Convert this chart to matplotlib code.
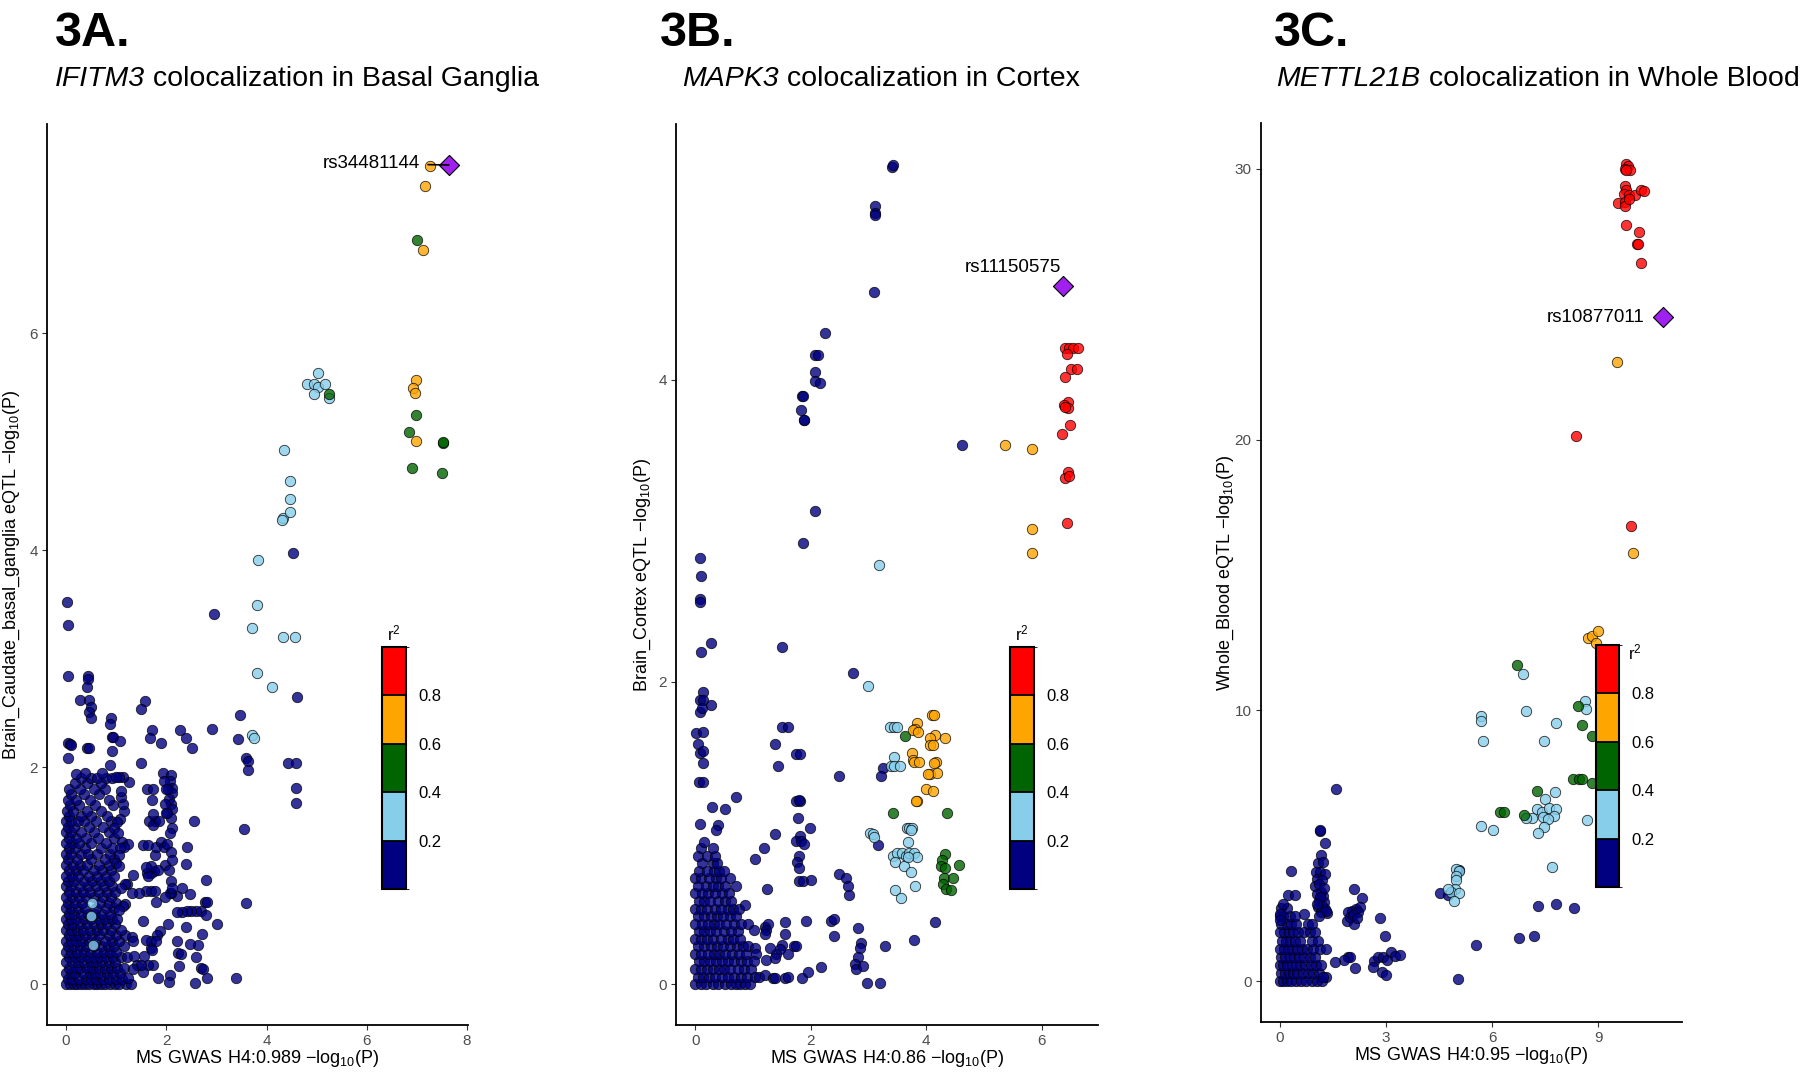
import matplotlib
matplotlib.use('Agg')
import matplotlib.pyplot as plt
import matplotlib as mpl
from matplotlib.colors import ListedColormap, BoundaryNorm

plt.rcParams['font.family'] = ['Liberation Sans', 'DejaVu Sans']
plt.rcParams['mathtext.fontset'] = 'custom'
plt.rcParams['mathtext.rm'] = 'Liberation Sans'
plt.rcParams['mathtext.it'] = 'Liberation Sans:italic'
plt.rcParams['mathtext.bf'] = 'Liberation Sans:bold'

# LD (r2) classes, low to high
ld_colors = ['#000080', '#87CEEB', '#006400', '#FFA500', '#FF0000']
ld_bounds = [0, 0.2, 0.4, 0.6, 0.8, 1.0]
lead_color = '#A020F0'

# ---------------- 3A: IFITM3, basal ganglia ----------------
a_navy_rows = {  # dense block near the origin, y: [x, ...]
    0.00: [0.0, 0.08, 0.15, 0.22, 0.3, 0.38, 0.45, 0.55, 0.62, 0.7, 0.78, 0.88, 0.97, 1.05, 1.2, 1.3],
    0.05: [0.03, 0.12, 0.26, 0.4, 0.5, 0.6, 0.74, 0.85, 1.0, 1.12],
    0.10: [0.0, 0.1, 0.18, 0.33, 0.47, 0.58, 0.68, 0.82, 0.93, 1.08],
    0.15: [0.05, 0.2, 0.28, 0.42, 0.52, 0.65, 0.77, 0.9, 1.02, 1.16],
    0.20: [0.0, 0.12, 0.24, 0.36, 0.5, 0.6, 0.72, 0.86, 0.98],
    0.25: [0.06, 0.17, 0.3, 0.44, 0.56, 0.68, 0.8, 0.94, 1.1, 1.22],
    0.30: [0.0, 0.1, 0.22, 0.35, 0.48, 0.62, 0.75, 0.88, 1.0],
    0.35: [0.04, 0.15, 0.28, 0.4, 0.55, 0.7, 0.84, 0.96, 1.15],
    0.40: [0.0, 0.1, 0.2, 0.32, 0.45, 0.6, 0.78, 0.92, 1.05],
    0.45: [0.05, 0.16, 0.26, 0.38, 0.52, 0.66, 0.86, 1.0, 1.18],
    0.50: [0.0, 0.1, 0.22, 0.34, 0.48, 0.62, 0.74, 0.9, 1.1],
    0.55: [0.04, 0.14, 0.28, 0.42, 0.56, 0.7, 0.82, 0.98],
    0.60: [0.0, 0.1, 0.2, 0.35, 0.5, 0.65, 0.78, 0.92, 1.02],
    0.65: [0.05, 0.16, 0.3, 0.44, 0.58, 0.72, 0.88],
    0.70: [0.0, 0.1, 0.24, 0.38, 0.6, 0.8, 0.95],
    0.75: [0.04, 0.18, 0.32, 0.68, 0.86, 1.0],
    0.80: [0.0, 0.12, 0.26, 0.4, 0.56, 0.74, 0.9],
    0.85: [0.06, 0.2, 0.34, 0.48, 0.66, 0.82, 0.98],
    0.90: [0.0, 0.1, 0.28, 0.44, 0.6, 0.76, 0.92],
    0.95: [0.04, 0.16, 0.36, 0.52, 0.7, 0.86],
    1.00: [0.0, 0.12, 0.24, 0.46, 0.62, 0.8, 0.95],
    1.05: [0.06, 0.2, 0.34, 0.56, 0.72, 0.9],
    1.10: [0.0, 0.14, 0.28, 0.42, 0.66, 0.85],
    1.15: [0.04, 0.22, 0.5, 0.78, 0.95],
    1.20: [0.0, 0.1, 0.3, 0.44, 0.62, 0.88],
    1.25: [0.06, 0.18, 0.38, 0.7, 0.92],
    1.30: [0.0, 0.12, 0.26, 0.5, 0.8],
    1.35: [0.05, 0.2, 0.4, 0.64, 0.95],
    1.40: [0.0, 0.1, 0.3, 0.55, 0.85],
    1.45: [0.04, 0.16, 0.46, 0.74],
    1.50: [0.0, 0.1, 0.24, 0.36, 0.6, 0.9],
    1.55: [0.05, 0.3, 0.5, 0.82],
    1.60: [0.02, 0.14, 0.42, 0.7],
    1.65: [0.08, 0.26, 0.58, 0.94],
    1.70: [0.04, 0.2, 0.48, 0.86],
    1.75: [0.1, 0.35, 0.65],
    1.80: [0.06, 0.28, 0.55, 0.78],
    1.85: [0.18, 0.42, 0.7],
    1.90: [0.3, 0.5, 0.62, 0.8, 0.92],
    1.95: [0.38, 0.72],
}
a_navy = [
    (4.52, 3.97), (0.01, 3.52), (0.03, 3.31), (2.95, 3.41), (4.60, 2.65), (0.03, 2.84),
    (0.43, 2.84), (0.43, 2.81), (0.41, 2.74), (0.27, 2.62), (0.45, 2.62), (0.50, 2.55),
    (0.46, 2.51), (0.50, 2.45), (0.90, 2.45), (0.88, 2.40), (1.57, 2.61), (1.50, 2.54),
    (1.71, 2.34), (1.68, 2.27), (1.89, 2.22), (2.28, 2.34), (2.39, 2.27), (2.51, 2.18),
    (2.91, 2.35), (3.47, 2.48), (3.43, 2.26), (3.59, 2.08), (3.64, 2.06), (3.64, 1.97),
    (4.42, 2.04), (4.59, 2.04), (4.58, 1.81), (4.58, 1.67), (3.55, 1.43), (3.60, 0.75),
    (3.40, 0.06), (0.03, 2.22), (0.07, 2.21), (0.10, 2.20), (0.03, 2.08), (0.41, 2.18),
    (0.46, 2.18), (0.91, 2.28), (0.94, 2.28), (1.08, 2.24), (0.91, 2.15), (0.88, 2.02),
    (1.49, 2.04), (0.19, 1.94),
    (3.02, 0.55), (2.79, 0.96), (2.77, 0.76), (2.81, 0.76), (2.69, 0.67), (2.59, 0.67),
    (2.50, 0.67), (2.41, 0.67), (2.31, 0.66), (2.22, 0.66), (2.80, 0.64), (2.72, 0.46),
    (2.64, 0.36), (2.59, 0.25), (2.47, 0.37), (2.70, 0.15), (2.74, 0.14), (2.82, 0.06),
    (2.58, 0.01), (2.26, 0.17), (2.24, 0.29), (2.30, 0.28), (2.22, 0.40), (2.39, 0.53),
    (2.56, 1.50), (2.42, 1.26), (2.39, 1.11), (2.48, 0.83), (2.31, 0.89), (2.21, 0.81),
    (2.10, 0.84), (2.07, 0.84), (2.04, 0.55), (2.08, 0.08), (2.06, 0.02), (1.84, 0.06),
    (1.87, 0.49), (1.82, 0.45), (1.70, 0.40), (1.69, 0.33), (1.71, 0.31), (1.79, 0.40),
    (1.73, 0.18), (1.64, 0.18), (1.54, 0.11), (1.59, 0.41), (1.54, 0.58), (1.42, 0.18),
    (1.49, 0.18), (1.35, 0.26), (1.31, 0.43), (1.33, 0.40), (1.24, 0.06), (1.33, 0.14),
    (1.56, 0.26), (1.79, 0.76), (1.98, 0.80), (1.69, 0.86), (1.78, 0.86), (1.59, 0.86),
    (1.46, 0.84), (1.31, 0.84), (1.75, 1.04), (1.69, 1.02), (1.61, 1.02), (1.69, 1.09),
    (1.63, 1.00), (1.59, 1.08), (1.54, 1.28), (1.63, 1.28), (1.77, 1.19), (1.79, 1.26),
    (1.89, 1.31), (1.96, 1.26), (1.97, 1.10), (1.84, 1.05), (1.78, 1.50), (1.66, 1.50),
    (1.74, 1.47), (1.73, 1.57), (1.71, 1.70), (1.61, 1.80), (1.74, 1.80), (1.86, 1.50),
    (1.93, 1.95), (1.26, 1.86), (1.14, 1.91), (1.06, 1.91), (1.00, 1.91), (1.16, 1.60),
    (1.13, 1.66), (1.10, 1.72), (1.10, 1.78), (1.08, 1.52), (1.02, 1.49), (0.96, 1.44),
    (1.03, 1.39), (1.12, 1.31), (1.23, 1.29), (1.16, 1.26), (1.08, 1.25), (1.05, 1.19),
    (1.00, 1.12), (1.06, 1.09), (1.33, 1.01), (1.22, 0.92), (1.17, 0.92), (1.10, 0.89),
    (1.17, 0.74), (1.13, 0.72), (1.06, 0.68),
    (2.10, 1.93), (2.07, 1.87), (2.12, 1.81), (2.04, 1.80), (2.11, 1.76), (2.06, 1.71),
    (2.09, 1.66), (2.11, 1.61), (2.02, 1.58), (2.09, 1.53), (2.12, 1.44), (2.07, 1.39),
    (2.02, 1.29), (2.09, 1.22), (2.11, 1.14), (2.06, 1.05), (2.09, 0.95), (2.12, 0.89),
    (1.96, 1.87), (1.99, 1.80), (1.97, 1.66), (1.99, 1.58),
]
a_skyblue = [
    (4.32, 4.30), (4.30, 4.28), (4.47, 4.35), (4.46, 4.47), (4.47, 4.64), (4.34, 4.92),
    (3.83, 3.91), (3.82, 3.49), (3.72, 3.28), (4.32, 3.20), (4.56, 3.20), (3.82, 2.87),
    (4.10, 2.74), (3.72, 2.30), (3.75, 2.27), (5.03, 5.63), (4.80, 5.53), (4.95, 5.53),
    (5.02, 5.50), (5.17, 5.53), (4.95, 5.44), (5.24, 5.40), (0.52, 0.75), (0.50, 0.63),
    (0.53, 0.36),
]
a_green = [(5.25, 5.44), (7.01, 6.86), (6.98, 5.25), (6.84, 5.09), (7.53, 4.99),
           (7.52, 5.00), (6.91, 4.76), (7.51, 4.71)]
a_orange = [(7.27, 7.54), (7.17, 7.36), (7.13, 6.77), (6.99, 5.57), (6.92, 5.49),
            (6.96, 5.45), (6.98, 5.01)]
a_red = []
a_lead = (7.64, 7.55)

# ---------------- 3B: MAPK3, cortex ----------------
b_navy_rows = {
    0.00: [0.0, 0.1, 0.18, 0.3, 0.4, 0.52, 0.62, 0.7, 0.78, 0.86, 0.95],
    0.05: [0.05, 0.14, 0.24, 0.35, 0.46, 0.57, 0.68, 0.8, 0.9],
    0.10: [0.0, 0.1, 0.2, 0.3, 0.42, 0.5, 0.6, 0.74, 0.84, 0.96],
    0.15: [0.06, 0.16, 0.26, 0.36, 0.46, 0.56, 0.68, 0.8, 0.9],
    0.20: [0.0, 0.1, 0.22, 0.32, 0.42, 0.52, 0.64, 0.76, 0.88],
    0.25: [0.04, 0.16, 0.28, 0.38, 0.48, 0.6, 0.72, 0.82, 0.92],
    0.30: [0.0, 0.1, 0.2, 0.3, 0.44, 0.56, 0.66, 0.78],
    0.35: [0.06, 0.16, 0.26, 0.36, 0.5, 0.62, 0.74],
    0.40: [0.0, 0.12, 0.22, 0.32, 0.42, 0.54, 0.68, 0.8, 0.92],
    0.45: [0.04, 0.16, 0.28, 0.38, 0.48, 0.6, 0.7],
    0.50: [0.0, 0.1, 0.2, 0.34, 0.44, 0.56, 0.66, 0.76],
    0.55: [0.06, 0.16, 0.26, 0.4, 0.52, 0.62],
    0.60: [0.0, 0.12, 0.22, 0.34, 0.46, 0.58],
    0.65: [0.05, 0.18, 0.3, 0.4, 0.52, 0.7],
    0.70: [0.0, 0.1, 0.24, 0.36, 0.44, 0.6],
    0.75: [0.06, 0.2, 0.32, 0.42, 0.5],
    0.80: [0.12, 0.3, 0.38],
    0.85: [0.04, 0.2, 0.35],
    0.90: [0.1, 0.3],
}
b_navy = [
    (3.41, 5.41), (3.42, 5.42), (3.11, 5.15), (3.11, 5.10), (3.12, 5.09), (3.09, 4.58),
    (2.24, 4.31), (2.08, 4.16), (2.12, 4.16), (2.08, 4.05), (2.07, 3.99), (2.17, 3.98),
    (1.85, 3.89), (1.86, 3.89), (1.83, 3.80), (1.88, 3.73), (1.89, 3.73), (4.62, 3.57),
    (2.07, 3.13), (1.87, 2.92), (0.09, 2.82), (0.10, 2.70), (0.09, 2.55), (0.09, 2.53),
    (0.28, 2.26), (0.10, 2.20), (1.50, 2.23), (2.74, 2.06),
    (0.13, 1.93), (0.09, 1.88), (0.14, 1.88), (0.08, 1.80), (0.12, 1.83), (0.27, 1.85),
    (0.02, 1.66), (0.13, 1.67), (0.05, 1.59), (0.08, 1.53), (0.14, 1.54), (0.13, 1.46),
    (0.06, 1.34), (0.13, 1.34), (0.70, 1.24), (0.29, 1.17), (0.51, 1.16), (0.08, 1.06),
    (0.40, 1.05), (0.36, 1.02), (0.16, 0.94),
    (1.50, 1.70), (1.61, 1.70), (1.39, 1.59), (1.75, 1.52), (1.81, 1.52), (1.43, 1.44),
    (2.49, 1.38), (1.75, 1.21), (1.81, 1.21), (1.79, 1.22), (1.78, 1.10), (1.99, 1.03),
    (1.81, 0.98), (1.75, 0.95), (1.84, 0.95), (1.88, 0.93), (1.39, 0.99), (1.19, 0.90),
    (1.04, 0.83), (1.79, 0.85), (1.76, 0.81), (1.80, 0.77), (1.79, 0.68), (1.86, 0.68),
    (2.00, 0.69), (1.25, 0.63), (2.49, 0.73), (2.62, 0.70), (2.65, 0.65), (2.66, 0.59),
    (3.25, 1.43), (3.22, 1.38), (3.16, 0.92), (4.16, 0.41), (3.79, 0.29), (3.28, 0.25),
    (2.82, 0.37), (2.88, 0.27), (2.86, 0.24), (2.82, 0.18), (2.77, 0.13), (2.79, 0.10),
    (2.90, 0.12), (2.98, 0.01), (3.20, 0.01), (2.36, 0.42), (2.41, 0.43), (2.40, 0.32),
    (1.92, 0.42), (2.18, 0.11), (1.85, 0.04), (1.95, 0.08), (1.55, 0.41), (1.56, 0.33),
    (1.71, 0.25), (1.75, 0.25), (1.61, 0.20), (1.51, 0.26), (1.46, 0.23), (1.40, 0.20),
    (1.39, 0.17), (1.23, 0.16), (1.29, 0.24), (1.20, 0.38), (1.26, 0.40), (1.23, 0.36),
    (1.21, 0.33), (1.02, 0.36), (1.03, 0.24), (1.06, 0.20), (1.01, 0.15), (1.04, 0.05),
    (1.11, 0.05), (1.20, 0.06), (1.35, 0.04), (1.39, 0.04), (1.55, 0.04), (1.61, 0.05),
    (0.87, 0.52),
]
b_skyblue = [
    (2.99, 1.97), (3.19, 2.77), (3.38, 1.70), (3.44, 1.70), (3.50, 1.70), (3.45, 1.50),
    (3.39, 1.44), (3.45, 1.44), (3.54, 1.44), (3.03, 1.00), (3.08, 0.99), (3.09, 0.97),
    (3.67, 1.03), (3.71, 1.03), (3.75, 1.03), (3.74, 1.02), (3.69, 0.94), (3.42, 0.85),
    (3.50, 0.87), (3.59, 0.87), (3.66, 0.85), (3.71, 0.87), (3.79, 0.87), (3.84, 0.84),
    (3.46, 0.81), (3.61, 0.78), (3.69, 0.84), (3.74, 0.74), (3.81, 0.65), (3.46, 0.62),
    (3.57, 0.57),
]
b_green = [(3.64, 1.64), (3.42, 1.13), (4.36, 1.13), (4.32, 0.86), (4.27, 0.82),
           (4.26, 0.78), (4.32, 0.77), (4.57, 0.79), (4.31, 0.70), (4.46, 0.70),
           (4.29, 0.66), (4.35, 0.63), (4.43, 0.62)]
b_orange = [
    (5.37, 3.57), (5.84, 3.54), (5.83, 3.01), (5.84, 2.85), (3.85, 1.73), (3.81, 1.69),
    (3.77, 1.68), (3.86, 1.67), (4.10, 1.78), (4.13, 1.78), (4.16, 1.65), (4.07, 1.63),
    (4.32, 1.63), (4.07, 1.58), (4.12, 1.58), (3.76, 1.53), (3.77, 1.48), (3.79, 1.47),
    (3.87, 1.47), (4.17, 1.47), (4.13, 1.46), (4.07, 1.39), (4.19, 1.40), (4.04, 1.39),
    (4.00, 1.29), (4.12, 1.28), (3.85, 1.21), (3.82, 1.21),
]
b_red = [
    (6.41, 4.21), (6.48, 4.21), (6.55, 4.21), (6.64, 4.21), (6.44, 4.17), (6.51, 4.07),
    (6.62, 4.07), (6.41, 4.02), (6.45, 3.85), (6.39, 3.83), (6.46, 3.81), (6.41, 3.82),
    (6.50, 3.70), (6.36, 3.64), (6.45, 3.39), (6.41, 3.35), (6.47, 3.36), (6.44, 3.05),
]
b_lead = (6.38, 4.62)

# ---------------- 3C: METTL21B, whole blood ----------------
c_navy_rows = {
    0.0: [0.0, 0.1, 0.2, 0.32, 0.45, 0.6, 0.75, 0.9, 1.05, 1.2],
    0.3: [0.05, 0.15, 0.26, 0.38, 0.5, 0.65, 0.8, 0.95, 1.1],
    0.6: [0.0, 0.1, 0.22, 0.34, 0.46, 0.58, 0.72, 0.88, 1.02, 1.18],
    0.9: [0.04, 0.16, 0.28, 0.4, 0.54, 0.68, 0.85, 1.0],
    1.2: [0.0, 0.12, 0.24, 0.36, 0.5, 0.62, 0.78, 0.95, 1.15, 1.3],
    1.5: [0.06, 0.18, 0.3, 0.44, 0.58, 0.92, 1.08],
    1.8: [0.0, 0.12, 0.25, 0.38, 0.52, 0.7, 0.85, 1.0],
    2.1: [0.05, 0.2, 0.32, 0.46, 0.8],
    2.4: [0.0, 0.1, 0.28, 0.42],
    2.7: [0.04, 0.2],
}
c_navy = [
    (1.58, 7.09), (1.14, 5.55), (1.15, 5.57), (1.28, 5.09), (1.18, 4.66), (1.08, 4.36),
    (1.22, 4.39), (1.03, 4.05), (1.15, 4.02), (1.28, 3.96), (1.06, 3.77), (1.20, 3.73),
    (1.01, 3.53), (1.17, 3.28), (1.06, 3.22), (1.23, 3.16), (1.12, 2.97), (1.25, 2.91),
    (1.09, 2.73), (1.28, 2.67), (1.17, 2.54), (1.34, 2.52), (1.20, 2.79), (1.10, 3.60),
    (1.25, 3.45), (1.15, 3.10), (1.05, 2.85), (1.30, 2.60), (1.12, 2.40),
    (0.31, 4.08), (0.23, 3.19), (0.43, 3.19), (0.08, 2.84), (0.01, 2.48), (0.01, 2.27),
    (0.69, 2.47), (0.90, 2.10),
    (2.10, 3.40), (2.33, 3.06), (2.05, 2.60), (2.16, 2.67), (2.27, 2.73), (1.94, 2.54),
    (1.89, 2.24), (2.11, 2.11), (2.22, 2.54), (1.99, 2.36), (2.08, 2.45), (2.18, 2.35),
    (2.83, 2.33), (2.97, 1.65), (2.14, 0.49), (1.94, 0.88), (1.99, 0.88), (1.82, 0.77),
    (1.56, 0.70), (2.66, 0.76), (2.77, 0.88), (2.91, 0.88), (3.04, 0.80), (3.15, 1.07),
    (3.26, 0.92), (3.40, 0.95), (2.88, 0.33), (2.99, 0.23), (2.64, 0.52), (1.32, 0.15),
    (1.22, 0.15),
    (4.54, 3.24), (4.76, 3.19), (5.08, 4.10), (7.30, 2.76), (7.82, 2.85), (8.33, 2.70),
    (6.76, 1.60), (7.20, 1.67), (5.56, 1.35), (5.04, 0.09),
]
c_skyblue = [
    (6.88, 11.35), (8.64, 10.34), (8.65, 10.04), (6.96, 9.96), (5.69, 9.79), (5.69, 9.61),
    (7.82, 9.53), (5.75, 8.86), (7.48, 8.88), (7.79, 6.98), (7.49, 6.72), (7.26, 6.35),
    (7.40, 6.23), (7.62, 6.41), (7.81, 6.37), (7.45, 6.08), (7.75, 6.11), (7.57, 5.99),
    (7.12, 6.04), (6.96, 6.01), (8.68, 5.97), (5.68, 5.74), (6.04, 5.59), (7.46, 5.70),
    (7.29, 5.47), (7.70, 4.23), (4.99, 4.14), (5.08, 4.08), (4.98, 3.89), (4.98, 3.75),
    (4.95, 3.40), (4.84, 3.28), (5.06, 3.24), (4.75, 3.40), (4.93, 2.97),
]
c_green = [(6.71, 11.66), (8.42, 10.18), (8.54, 9.45), (8.83, 9.05), (8.28, 7.46),
           (8.45, 7.46), (8.54, 7.46), (8.83, 7.31), (7.28, 7.01), (6.22, 6.25),
           (6.33, 6.25), (6.90, 6.14)]
c_orange = [(8.72, 12.68), (8.83, 12.76), (9.00, 12.92), (8.95, 12.47), (9.53, 22.88),
            (9.98, 15.81)]
c_red = [
    (9.79, 30.18), (9.83, 30.12), (9.75, 30.00), (9.91, 29.94), (9.80, 29.96), (9.75, 29.35),
    (9.80, 29.23), (9.72, 29.08), (9.88, 29.05), (10.05, 29.05), (10.21, 29.23),
    (10.29, 29.18), (9.57, 28.73), (9.77, 28.77), (9.77, 28.61), (9.88, 28.89),
    (9.79, 27.91), (10.14, 27.66), (10.10, 27.21), (10.12, 27.22), (10.20, 26.53),
    (8.37, 20.12), (9.94, 16.81),
]
c_lead = (10.83, 24.51)


def rows_to_points(rows):
    return [(x, y) for y, xs in rows.items() for x in xs]


def draw_panel(ax, groups, lead, lead_name, text_offset, segment, xticks, yticks):
    for pts, col in zip(groups, ld_colors):
        if not pts:
            continue
        xs = [p[0] for p in pts]
        ys = [p[1] for p in pts]
        ax.scatter(xs, ys, s=56, c=col, edgecolors='black', linewidths=0.6,
                   alpha=0.8, zorder=2)
    ax.scatter([lead[0]], [lead[1]], marker='D', s=105, c=lead_color,
               edgecolors='black', linewidths=0.8, zorder=4)
    arrow = dict(arrowstyle='-', color='black', lw=1.2, shrinkA=4, shrinkB=0) if segment else None
    ax.annotate(lead_name, xy=lead, xytext=text_offset, textcoords='offset points',
                ha='right', va='center', fontsize=13.5, arrowprops=arrow, zorder=5)
    ax.margins(x=0.05, y=0.05)
    ax.set_xticks(xticks)
    ax.set_yticks(yticks)
    for side in ['top', 'right']:
        ax.spines[side].set_visible(False)
    for side in ['left', 'bottom']:
        ax.spines[side].set_linewidth(1.3)
    ax.tick_params(color='#333333', labelcolor='#4D4D4D', labelsize=11,
                   length=3.5, width=0.8, pad=3)


def add_ld_bar(fig, rect, title_pos=None):
    cax = fig.add_axes(rect)
    sm = mpl.cm.ScalarMappable(norm=BoundaryNorm(ld_bounds, 5), cmap=ListedColormap(ld_colors))
    cb = fig.colorbar(sm, cax=cax, ticks=[0.2, 0.4, 0.6, 0.8], drawedges=True)
    cb.outline.set_linewidth(1.5)
    cb.dividers.set_linewidth(1.3)
    cb.ax.set_yticklabels(['0.2', '0.4', '0.6', '0.8'])
    cax.tick_params(length=0, labelsize=12, pad=9)
    if title_pos is None:
        cax.set_title('r$^{2}$', fontsize=12, pad=5)
    else:
        cax.text(title_pos[0], title_pos[1], 'r$^{2}$', transform=cax.transAxes,
                 ha='left', va='center', fontsize=12)


fig = plt.figure(figsize=(18, 10.73), dpi=100)

ax_a = fig.add_axes([0.0261, 0.0447, 0.2339, 0.8397])
ax_b = fig.add_axes([0.3756, 0.0447, 0.2342, 0.8397])
ax_c = fig.add_axes([0.7003, 0.0475, 0.2342, 0.8378])

draw_panel(ax_a, [rows_to_points(a_navy_rows) + a_navy, a_skyblue, a_green, a_orange, a_red],
           a_lead, 'rs34481144', (-21, 1), True, [0, 2, 4, 6, 8], [0, 2, 4, 6])
draw_panel(ax_b, [rows_to_points(b_navy_rows) + b_navy, b_skyblue, b_green, b_orange, b_red],
           b_lead, 'rs11150575', (-2, 13.5), False, [0, 2, 4, 6], [0, 2, 4])
draw_panel(ax_c, [rows_to_points(c_navy_rows) + c_navy, c_skyblue, c_green, c_orange, c_red],
           c_lead, 'rs10877011', (-13, 0), False, [0, 3, 6, 9], [0, 10, 20, 30])

ax_a.set_ylabel('Brain_Caudate_basal_ganglia eQTL \u2212log$_{10}$(P)', fontsize=13)
ax_b.set_ylabel('Brain_Cortex eQTL \u2212log$_{10}$(P)', fontsize=13)
ax_c.set_ylabel('Whole_Blood eQTL \u2212log$_{10}$(P)', fontsize=13)
ax_a.set_xlabel('MS GWAS H4:0.989 \u2212log$_{10}$(P)', fontsize=13)
ax_b.set_xlabel('MS GWAS H4:0.86 \u2212log$_{10}$(P)', fontsize=13)
ax_c.set_xlabel('MS GWAS H4:0.95 \u2212log$_{10}$(P)', fontsize=13)
for ax, ylx in [(ax_a, -0.084), (ax_b, -0.078), (ax_c, -0.082)]:
    ax.yaxis.set_label_coords(ylx, 0.5)
    ax.yaxis.label.set_va('center')
    ax.xaxis.set_label_coords(0.5, -0.037)
    ax.xaxis.label.set_va('center')

add_ld_bar(fig, [0.2122, 0.1715, 0.0133, 0.2255])
add_ld_bar(fig, [0.5611, 0.1715, 0.0133, 0.2255])
add_ld_bar(fig, [0.8867, 0.1734, 0.0128, 0.2255], title_pos=(1.4, 0.97))

# panel tags and titles (gene name in italics)
panel_tags = ['3A.', '3B.', '3C.']
panel_genes = ['IFITM3', 'MAPK3', 'METTL21B']
panel_tissues = [' colocalization in Basal Ganglia', ' colocalization in Cortex',
                 ' colocalization in Whole Blood']
tag_x = [0.0306, 0.3667, 0.7078]
title_x = [0.0306, 0.3789, 0.7092]
renderer = fig.canvas.get_renderer()
for tag, tx, gene, tissue, sx in zip(panel_tags, tag_x, panel_genes, panel_tissues, title_x):
    fig.text(tx, 0.957, tag, fontsize=35, fontweight='bold', ha='left', va='baseline')
    g = fig.text(sx, 0.920, gene, fontsize=20.5, style='italic', ha='left', va='baseline')
    gx1 = g.get_window_extent(renderer).x1 / fig.bbox.width
    fig.text(gx1, 0.920, tissue, fontsize=20.5, ha='left', va='baseline')

fig.savefig('out.png', dpi=100)
